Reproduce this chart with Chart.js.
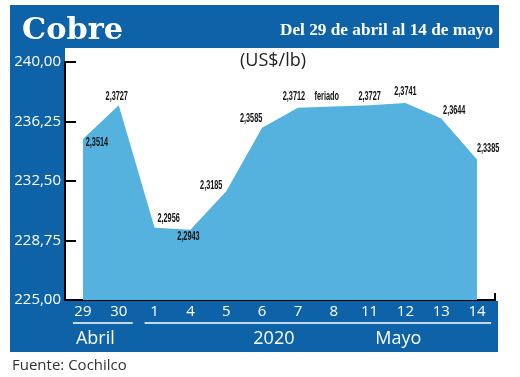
<!DOCTYPE html>
<html>
<head>
<meta charset="utf-8">
<script src="https://cdn.jsdelivr.net/npm/chart.js@4.4.1/dist/chart.umd.min.js"></script>
<style>
  html, body { margin: 0; padding: 0; background: #fff; }
  #wrap { width: 520px; height: 377px; }
</style>
</head>
<body>
<div id="wrap"><canvas id="chart" width="520" height="377"></canvas></div>
<script>
// copper price, axis in US cents / lb (labels in US$/lb)
const days = ['29', '30', '1', '4', '5', '6', '7', '8', '11', '12', '13', '14'];
const cents = [235.14, 237.27, 229.56, 229.43, 231.85, 235.85, 237.12, null, 237.27, 237.41, 236.44, 233.85];
const priceText = ['2,3514', '2,3727', '2,2956', '2,2943', '2,3185', '2,3585', '2,3712', 'feriado', '2,3727', '2,3741', '2,3644', '2,3385'];
const yTicks = [225, 228.75, 232.5, 236.25, 240];
const months = ['Abril', 'Mayo'];
const monthFirst = [0, 2];
const monthLast = [1, 11];
const year = '2020';

const DARK = '#0e62a8';
const FILL = '#55b2df';

// where each value label sits, relative to its point
const labelShift = [[14, 4], [-2, -9], [14, -9], [-2, 7], [-15, -6], [-11, -9], [-4, -11], [-7, -10], [0, -9], [0, -11], [13, -8], [11, -11]];

function fitText(ctx, text, x, y, width, align) {
  const w = ctx.measureText(text).width;
  const sx = width / w;
  ctx.save();
  ctx.translate(x, y);
  ctx.scale(sx, 1);
  ctx.textAlign = align;
  ctx.fillText(text, 0, 0);
  ctx.restore();
}

const frame = {
  id: 'frame',
  beforeDraw(chart) {
    const {ctx, chartArea: a} = chart;
    ctx.save();
    ctx.fillStyle = DARK;
    ctx.fillRect(10, 5, 489, 43);
    ctx.fillRect(10, 5, a.left - 10, 347);
    ctx.fillRect(10, a.bottom + 1, 488, 51);
    ctx.restore();
  },
  afterDatasetsDraw(chart) {
    const {ctx} = chart;
    const xs = chart.scales.x, ys = chart.scales.y;
    ctx.save();
    ctx.fillStyle = '#111';
    ctx.font = 'bold 12px "Liberation Sans"';
    ctx.textBaseline = 'middle';
    priceText.forEach((t, i) => {
      const v = cents[i] !== null ? cents[i] : (cents[i - 1] + cents[i + 1]) / 2;
      const x = xs.getPixelForValue(i) + labelShift[i][0];
      const y = ys.getPixelForValue(v) + labelShift[i][1];
      const w = ctx.measureText(t).width * 0.61;
      fitText(ctx, t, x, y, w, 'center');
    });
    ctx.restore();
  },
  afterDraw(chart) {
    const {ctx, chartArea: a} = chart;
    const xs = chart.scales.x, ys = chart.scales.y;
    ctx.save();

    // inward y ticks and end tick
    ctx.strokeStyle = '#000';
    ctx.lineWidth = 2;
    ctx.beginPath();
    yTicks.forEach(v => {
      const y = Math.round(ys.getPixelForValue(v));
      ctx.moveTo(a.left, y);
      ctx.lineTo(a.left + 11, y);
    });
    ctx.moveTo(a.right, a.bottom + 1);
    ctx.lineTo(a.right, a.bottom - 7);
    ctx.stroke();

    // header
    ctx.fillStyle = '#fff';
    ctx.textBaseline = 'alphabetic';
    ctx.font = 'bold 30px "DejaVu Serif"';
    fitText(ctx, 'Cobre', 22, 39, 101, 'left');
    ctx.font = 'bold 17px "Liberation Serif"';
    fitText(ctx, 'Del 29 de abril al 14 de mayo', 493, 35, 213, 'right');

    // month groups
    const step = xs.getPixelForValue(1) - xs.getPixelForValue(0);
    ctx.strokeStyle = '#fff';
    ctx.lineWidth = 1.5;
    ctx.beginPath();
    months.forEach((m, k) => {
      ctx.moveTo(xs.getPixelForValue(monthFirst[k]) - 10, 323);
      ctx.lineTo(xs.getPixelForValue(monthLast[k]) + 14, 323);
    });
    ctx.stroke();
    ctx.font = '18px "Open Sans"';
    ctx.textBaseline = 'middle';
    ctx.textAlign = 'left';
    ctx.fillText(months[0], xs.getPixelForValue(monthFirst[0]) - 7, 339);
    ctx.textAlign = 'center';
    ctx.fillText(year, xs.getPixelForValue(0) + 5.33 * step, 339);
    ctx.fillText(months[1], xs.getPixelForValue(0) + 8.8 * step, 339);

    // unit and source
    ctx.fillStyle = '#222';
    ctx.font = '18px "Open Sans"';
    ctx.fillText('(US$/lb)', 273, 61);
    ctx.fillStyle = '#333';
    ctx.font = '15px "Open Sans"';
    ctx.textAlign = 'left';
    ctx.fillText('Fuente: Cochilco', 12, 366);
    ctx.restore();
  }
};

new Chart(document.getElementById('chart'), {
  type: 'line',
  data: {
    labels: days,
    datasets: [{
      data: cents,
      fill: 'start',
      backgroundColor: FILL,
      borderColor: FILL,
      borderWidth: 0,
      pointRadius: 0,
      tension: 0,
      spanGaps: true
    }]
  },
  options: {
    responsive: false,
    animation: false,
    events: [],
    layout: { padding: { left: 10, top: 62, right: 25, bottom: 0 } },
    plugins: { legend: { display: false }, tooltip: { enabled: false } },
    scales: {
      x: {
        offset: true,
        grid: { display: false, drawTicks: false },
        border: { display: true, color: '#000', width: 2 },
        ticks: { color: '#fff', font: { family: 'Open Sans', size: 15 }, padding: 3, maxRotation: 0, autoSkip: false },
        afterFit(s) { s.height = 77; }
      },
      y: {
        min: 225,
        max: 240,
        grid: { display: false, drawTicks: false },
        border: { display: true, color: '#000', width: 2 },
        afterBuildTicks(s) { s.ticks = yTicks.map(v => ({ value: v })); },
        ticks: {
          color: '#fff',
          font: { family: 'Open Sans', size: 15 },
          padding: 4,
          callback: v => v.toFixed(2).replace('.', ',')
        },
        afterFit(s) { s.width = 55; }
      }
    }
  },
  plugins: [frame]
});
</script>
</body>
</html>
